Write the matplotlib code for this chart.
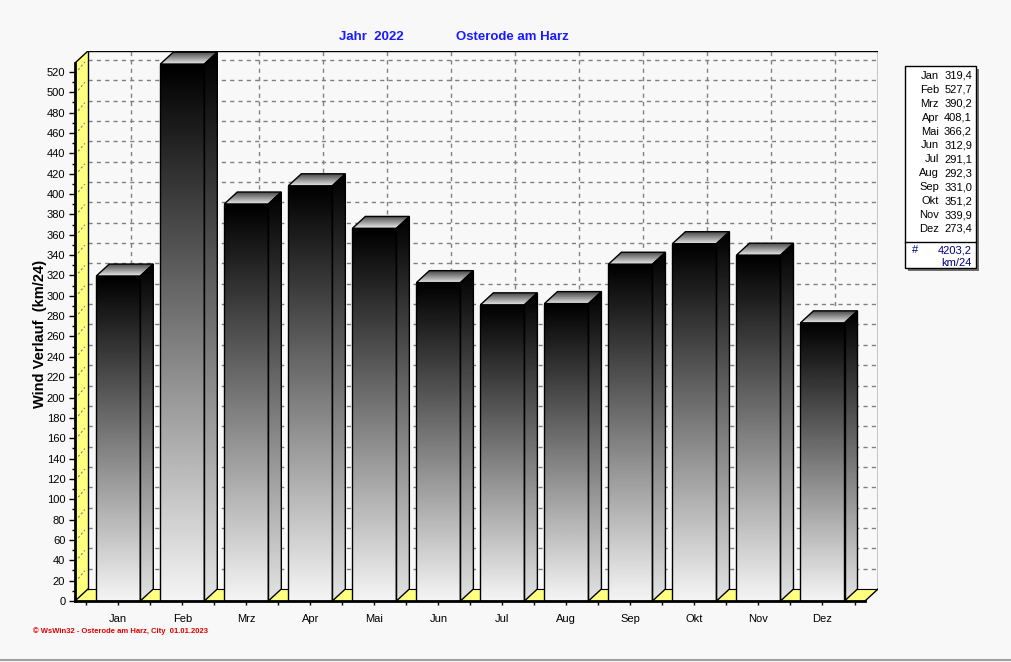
import numpy as np
import matplotlib.pyplot as plt
from matplotlib.patches import Polygon, Rectangle
from matplotlib.lines import Line2D

plt.rcParams['font.family'] = ['Liberation Sans', 'DejaVu Sans']

months = ["Jan", "Feb", "Mrz", "Apr", "Mai", "Jun",
          "Jul", "Aug", "Sep", "Okt", "Nov", "Dez"]
wind = [319.4, 527.7, 390.2, 408.1, 366.2, 312.9,
        291.1, 292.3, 331.0, 351.2, 339.9, 273.4]
total = 4203.2
year = 2022
station = "Osterode am Harz"
footer = "\u00a9 WsWin32 - Osterode am Harz, City  01.01.2023"

W, H = 1011, 662
BG = "#f8f8f8"
YELLOW = "#ffff80"
BLUE = "#1a1aff"
NAVY = "#000080"

# 3D depth (in data units) and bar width
DX = 0.203
DY = 11.8
BW = 0.6875
XLIM = (-0.676, 11.867)
YLIM = (0, 540.6)


def fx(x):
    return x / W


def fy(y):
    return 1 - y / H


fig = plt.figure(figsize=(W / 100, H / 100), dpi=100, facecolor=BG)
ax = fig.add_axes([fx(75), fy(601), fx(878) - fx(75), fy(51) - fy(601)])
ax.set_facecolor("none")
ax.set_autoscale_on(False)
ax.set_xlim(XLIM)
ax.set_ylim(YLIM)

x0, x1 = XLIM
y1 = YLIM[1]
xf1 = x1 - DX  # front right end
yf1 = y1 - DY  # front top end

# back wall
ax.add_patch(Rectangle((x0 + DX, DY), x1 - x0 - DX, y1 - DY,
                       facecolor=BG, edgecolor="none", zorder=0))
# gridlines on back wall
for v in range(20, 521, 20):
    ax.plot([x0 + DX, x1], [v + DY, v + DY], color="#808080", lw=1,
            ls=(0, (3, 3)), zorder=1)
for i in range(len(months)):
    ax.plot([i + DX, i + DX], [DY, y1], color="#808080", lw=1,
            ls=(0, (3, 3)), zorder=1)
# left wall (yellow)
ax.add_patch(Polygon([(x0, 0), (x0 + DX, DY), (x0 + DX, y1), (x0, yf1)],
                     closed=True, facecolor=YELLOW, edgecolor="none", zorder=2))
for v in range(20, 521, 20):
    ax.plot([x0 + 0.05, x0 + DX - 0.05], [v + 2, v + DY - 2], color="#808080",
            lw=0.8, ls=(0, (2, 2)), zorder=2)
# floor (yellow)
ax.add_patch(Polygon([(x0, 0), (x0 + DX, DY), (x1, DY), (xf1, 0)],
                     closed=True, facecolor=YELLOW, edgecolor="none", zorder=2))
# frame lines
ax.plot([x0 + DX, x0 + DX, x1, x1], [DY, y1, y1, DY], color="black", lw=1, zorder=3)
ax.plot([x0 + DX, x1], [DY, DY], color="black", lw=0.8, zorder=3)
ax.plot([x0, x0 + DX], [yf1, y1], color="black", lw=1, zorder=3)
ax.plot([x0, x0 + DX], [0, DY], color="black", lw=1, zorder=3)
ax.plot([xf1, x1], [0, DY], color="black", lw=1, zorder=3)

# bars
grad = np.linspace(0.96, 0.0, 256).reshape(-1, 1)
top_grad = np.linspace(0.9, 0.25, 32).reshape(-1, 1)
for i, v in enumerate(wind):
    a, b = i - BW / 2, i + BW / 2
    ax.imshow(grad, extent=(a, b, 0, v), cmap="gray", vmin=0, vmax=1,
              aspect="auto", origin="lower", zorder=4, interpolation="bilinear")
    ax.add_patch(Rectangle((a, 0), BW, v, facecolor="none",
                           edgecolor="black", lw=1, zorder=5))
    side = Polygon([(b, 0), (b + DX, DY), (b + DX, v + DY), (b, v)],
                   closed=True, facecolor="none", edgecolor="black", lw=1, zorder=5)
    ax.add_patch(side)
    im = ax.imshow(grad * 0.93, extent=(b, b + DX, 0, v + DY), cmap="gray",
                   vmin=0, vmax=1, aspect="auto", origin="lower", zorder=4,
                   interpolation="bilinear")
    im.set_clip_path(side)
    top = Polygon([(a, v), (a + DX, v + DY), (b + DX, v + DY), (b, v)],
                  closed=True, facecolor="none", edgecolor="black", lw=1, zorder=5)
    ax.add_patch(top)
    im = ax.imshow(top_grad, extent=(a, b + DX, v, v + DY), cmap="gray",
                   vmin=0, vmax=1, aspect="auto", origin="lower", zorder=4,
                   interpolation="bilinear")
    im.set_clip_path(top)

ax.set_xlim(XLIM)
ax.set_ylim(YLIM)

# axes
for s in ["top", "right"]:
    ax.spines[s].set_visible(False)
ax.spines["left"].set_bounds(0, yf1)
ax.spines["left"].set_linewidth(2)
ax.spines["left"].set_zorder(6)
ax.spines["bottom"].set_bounds(x0, xf1)
ax.spines["bottom"].set_linewidth(2)
ax.spines["bottom"].set_zorder(6)
ax.set_yticks(range(0, 521, 20))
ax.set_yticks(range(10, 521, 20), minor=True)
ax.tick_params(axis="y", which="major", length=4, width=1, labelsize=8, pad=3)
ax.tick_params(axis="y", which="minor", length=2, width=1)
ax.set_xticks(range(len(months)))
ax.set_xticklabels(months)
ax.set_xticks(np.arange(-0.5, 11.6, 1.0), minor=True)
ax.tick_params(axis="x", which="major", length=3, width=1, labelsize=8, pad=6)
ax.tick_params(axis="x", which="minor", length=3, width=1)

# texts
fig.text(fx(371), fy(37), f"Jahr  {year}", color=BLUE, fontsize=9.5,
         fontweight="bold", ha="center", va="center")
fig.text(fx(512), fy(37), station, color=BLUE, fontsize=9.5,
         fontweight="bold", ha="center", va="center")
fig.text(fx(40), fy(334), "Wind Verlauf  (km/24)", rotation=90, fontsize=10.5,
         fontweight="bold", ha="center", va="center")
fig.text(fx(33), fy(631), footer, color="#e00000", fontsize=5.5,
         fontweight="bold", ha="left", va="center")

# legend box
fig.add_artist(Rectangle((fx(908), fy(271)), fx(71), fy(0) - fy(202),
                         transform=fig.transFigure, facecolor="#707070",
                         edgecolor="none"))
fig.add_artist(Rectangle((fx(905), fy(268)), fx(71), fy(0) - fy(202),
                         transform=fig.transFigure, facecolor="white",
                         edgecolor="black", lw=1))
for k, (m, v) in enumerate(zip(months, wind)):
    yy = fy(76 + 13.9 * k)
    fig.text(fx(939), yy, m, fontsize=8, ha="right", va="center")
    fig.text(fx(972), yy, f"{v:.1f}".replace(".", ","), fontsize=8,
             ha="right", va="center")
fig.add_artist(Line2D([fx(905), fx(976)], [fy(242), fy(242)],
                      transform=fig.transFigure, color="black", lw=1))
fig.text(fx(915), fy(250), "#", color=NAVY, fontsize=8, ha="center", va="center")
fig.text(fx(972), fy(250), f"{total:.1f}".replace(".", ","), color=NAVY,
         fontsize=8, ha="right", va="center")
fig.text(fx(972), fy(263), "km/24", color=NAVY, fontsize=8, ha="right",
         va="center")

# bottom border line
fig.add_artist(Line2D([0, 1], [fy(660), fy(660)], transform=fig.transFigure,
                      color="#a0a0a0", lw=1.5))

fig.savefig("out.png", dpi=100, facecolor=BG)
